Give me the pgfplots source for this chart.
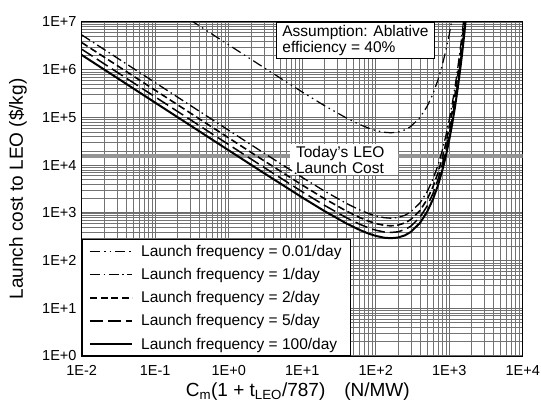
\documentclass[border=0pt]{standalone}
\usepackage{fontspec}
\setmainfont{Liberation Sans}
\usepackage{pgfplots}
\pgfplotsset{compat=1.18}

\begin{document}
\begin{tikzpicture}
\useasboundingbox (-81.7bp,-49bp) rectangle (459.3bp,356bp);
\begin{axis}[
    scale only axis,
    width=441bp, height=334bp,
    xmode=log, ymode=log,
    xmin=1e-2, xmax=1e4, ymin=1, ymax=1e7,
    xtick={1e-2,1e-1,1,1e1,1e2,1e3,1e4},
    xticklabels={1E-2,1E-1,1E+0,1E+1,1E+2,1E+3,1E+4},
    ytick={1,1e1,1e2,1e3,1e4,1e5,1e6,1e7},
    yticklabels={1E+0,1E+1,1E+2,1E+3,1E+4,1E+5,1E+6,1E+7},
    grid=both,
    major grid style={black!58, line width=1.2bp},
    minor grid style={black!55, line width=0.5bp},
    major tick length=0pt, minor tick length=0pt,
    axis line style={line width=1bp},
    tick label style={font=\fontsize{14.5bp}{16bp}\selectfont, inner sep=2bp},
    xticklabel style={yshift=-7bp},
    yticklabel style={xshift=-3bp},
    xlabel={C\textsubscript{m}(1 + t\textsubscript{LEO}/787)\quad(N/MW)},
    ylabel={Launch cost to LEO (\$/kg)},
    label style={font=\fontsize{19bp}{22bp}\selectfont},
    xlabel style={at={(axis description cs:0.49,0)}, anchor=base, yshift=-40bp},
    ylabel style={at={(axis description cs:-0.145,0.5)}, anchor=center},
    legend style={at={(rel axis cs:0,0)}, anchor=south west,
        draw=black, line width=1bp, fill=white,
        font=\fontsize{15.5bp}{17bp}\selectfont,
        inner xsep=7bp, inner ysep=3bp, row sep=6.5bp,
        /tikz/every odd column/.append style={column sep=6bp}},
    legend cell align=left,
    legend image code/.code={\draw[#1] (0bp,0bp) -- (42bp,0bp);},
]
% today's launch cost line
\addplot[forget plot, black!42, line width=3.5bp] coordinates {(1e-2,1.56e4) (1e4,1.56e4)};
\node[anchor=west, fill=white, inner xsep=6bp, inner ysep=2bp, align=left,
      text width=96bp, font=\fontsize{15.5bp}{15.5bp}\selectfont]
    at (rel axis cs:0.472,0.587) {Today's LEO\\Launch Cost};

% 0.01/day
\addplot[black, line width=1.2bp, dash pattern=on 10bp off 4bp on 1.5bp off 4bp on 1.5bp off 4bp] table {
0.3 1.103e7
1 3.315e6
3 1.111e6
10 3.411e5
20 1.774e5
40 9.710e4
60 7.151e4
80 5.964e4
100 5.335e4
130 4.890e4
160 4.770e4
200 4.921e4
250 5.485e4
300 6.451e4
400 9.950e4
500 1.696e5
600 3.100e5
700 5.982e5
800 1.205e6
900 2.518e6
1000 5.417e6
1100 1.198e7
};
\addlegendentry{Launch frequency = 0.01/day}

% 1/day
\addplot[black, line width=1.3bp, dash pattern=on 10bp off 3.5bp on 1.5bp off 3.5bp] table {
0.01 5.366e6
0.1 5.366e5
1 5.377e4
3 18015
10 5533
20 2878
40 1575
60 1160
80 967.4
100 865.2
130 793.0
160 773.6
200 798.1
250 889.7
300 1046
400 1614
500 2750
600 5029
700 9703
800 19545
900 40840
1000 87860
1100 1.943e5
1200 4.397e5
1300 1.018e6
1400 2.401e6
1500 5.763e6
1600 1.408e7
};
\addlegendentry{Launch frequency = 1/day}

% 2/day
\addplot[black, line width=1.6bp, dash pattern=on 7bp off 3.5bp] table {
0.01 3.712e6
0.1 3.712e5
1 3.719e4
3 12465
10 3828
20 1991
40 1089
60 802.4
80 669.3
100 598.5
130 548.7
160 535.2
200 552.2
250 615.4
300 723.8
400 1116
500 1903
600 3479
700 6713
800 13520
900 28250
1000 60780
1100 1.344e5
1200 3.042e5
1300 7.041e5
1400 1.661e6
1500 3.987e6
1600 9.735e6
1700 2.416e7
};
\addlegendentry{Launch frequency = 2/day}

% 5/day
\addplot[black, line width=1.5bp, dash pattern=on 13bp off 5bp] table {
0.01 2.689e6
0.1 2.689e5
1 2.695e4
3 9031
10 2773
20 1443
40 789.2
60 581.3
80 484.8
100 433.6
130 397.5
160 387.7
200 400.0
250 445.9
300 524.4
400 808.7
500 1378
600 2521
700 4863
800 9798
900 20470
1000 44030
1100 97370
1200 2.204e5
1300 5.102e5
1400 1.203e6
1500 2.888e6
1600 7.051e6
1700 1.751e7
};
\addlegendentry{Launch frequency = 5/day}

% 100/day
\addplot[black, line width=2bp] table {
0.01 2.04e6
0.1 2.04e5
1 2.044e4
3 6851
10 2104
20 1094
40 598.6
60 441.0
80 367.8
100 328.9
130 301.5
160 294.1
200 303.4
250 338.2
300 397.7
400 613.4
500 1045.7
600 1912
700 3689
800 7432
900 15530
1000 33400
1100 73860
1200 1.672e5
1300 3.870e5
1400 9.127e5
1500 2.192e6
1600 5.349e6
1700 1.328e7
};
\addlegendentry{Launch frequency = 100/day}

\node[anchor=north west, draw=black, line width=0.8bp, fill=white,
      inner xsep=6bp, inner ysep=3bp, align=left,
      font=\fontsize{15.5bp}{16bp}\selectfont]
    at (rel axis cs:0.4406,1) {Assumption: Ablative\\efficiency = 40\%};
\end{axis}
\end{tikzpicture}
\end{document}
